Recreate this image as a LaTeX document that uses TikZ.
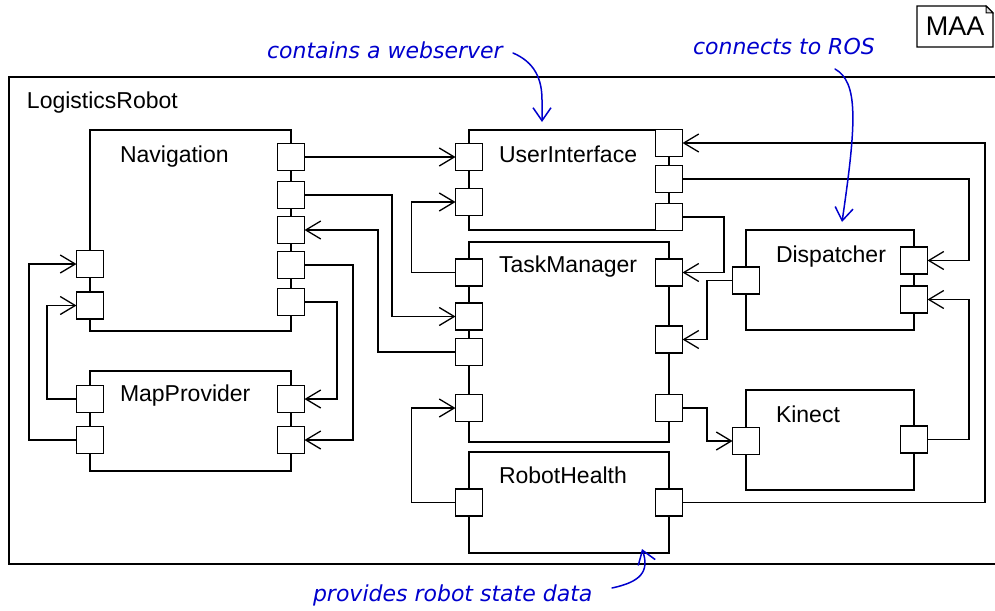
\documentclass[tikz,border=0pt]{standalone}
\usepackage{fontspec}
\setmainfont{Liberation Sans}
\newfontfamily\notefont{DejaVu Sans}
\usetikzlibrary{arrows.meta}

\begin{document}
\begin{tikzpicture}[x=1pt,y=-1pt,line cap=rect,
  comp/.style={draw, line width=1.4pt, inner sep=0, outer sep=0, anchor=north west},
  cname/.style={inner sep=0, outer sep=0, anchor=base west, font=\fontsize{23pt}{23pt}\selectfont},
  port/.style={draw, fill=white, line width=1.8pt, inner sep=0, outer sep=0, minimum size=27pt},
  conn/.style={line width=1.3pt, -{Straight Barb[length=15pt,width=18pt]}},
  note/.style={inner sep=0, outer sep=0, anchor=base west, custcol_0_0_cd, font=\notefont\itshape\fontsize{22pt}{22pt}\selectfont},
  notearrow/.style={custcol_0_0_cd, line width=1.5pt, line cap=round, -{Straight Barb[length=13pt,width=18pt]}}]
\useasboundingbox (0,0) rectangle (995,610);
\definecolor{custcol_0_0_0}{RGB}{0, 0, 0}
\definecolor{custcol_0_0_cd}{RGB}{0, 0, 205}
\definecolor{custcol_dd_dd_dd}{RGB}{221, 221, 221}
% outer frame
\draw [line width=1.4pt, custcol_0_0_0] (994,77) -- (9,77) -- (9,564) -- (994,564);
\node[cname] (robotName) at (27,108) {LogisticsRobot};
% MAA tag
\node[inner sep=0, outer sep=0, minimum width=76pt, minimum height=41pt, font=\fontsize{27pt}{27pt}\selectfont] (maa) at (955,26.5) {MAA};
\draw [line width=1.4pt] (maa.north west) -- ([xshift=-7pt]maa.north east) -- ([yshift=-7pt]maa.north east) -- (maa.south east) -- (maa.south west) -- cycle;
\filldraw [line width=1pt, fill=custcol_dd_dd_dd] ([xshift=-7pt]maa.north east) -- ([xshift=-7pt,yshift=-7pt]maa.north east) -- ([yshift=-7pt]maa.north east) -- cycle;
% components
\node[comp, minimum width=201pt, minimum height=201pt] (nav) at (90,130) {};
\node[comp, minimum width=201pt, minimum height=100pt] (mp) at (90,371) {};
\node[comp, minimum width=200pt, minimum height=100pt] (ui) at (469,130) {};
\node[comp, minimum width=200pt, minimum height=200pt] (tm) at (469,242) {};
\node[comp, minimum width=200pt, minimum height=101pt] (rh) at (469,452) {};
\node[comp, minimum width=168pt, minimum height=100pt] (dsp) at (746,230) {};
\node[comp, minimum width=168pt, minimum height=100pt] (kin) at (746,390) {};
\node[cname] (navName) at (120,162) {Navigation};
\node[cname] (mpName) at (120,401) {MapProvider};
\node[cname] (uiName) at (499,162) {UserInterface};
\node[cname] (tmName) at (499,272) {TaskManager};
\node[cname] (rhName) at (499,483) {RobotHealth};
\node[cname] (dspName) at (776,262) {Dispatcher};
\node[cname] (kinName) at (776,422) {Kinect};
% ports
\node[port] (navR1) at (291,157) {};
\node[port] (navR2) at (291,195) {};
\node[port] (navR3) at (291,230) {};
\node[port] (navR4) at (291,265) {};
\node[port] (navR5) at (291,302) {};
\node[port] (navL1) at (90,264) {};
\node[port] (navL2) at (90,305.5) {};
\node[port] (mpL1) at (90,399) {};
\node[port] (mpL2) at (90,440) {};
\node[port] (mpR1) at (291,399) {};
\node[port] (mpR2) at (291,440) {};
\node[port] (uiL1) at (469,157) {};
\node[port] (uiL2) at (469,202) {};
\node[port] (uiR1) at (669,143) {};
\node[port] (uiR2) at (669,179) {};
\node[port] (uiR3) at (669,217) {};
\node[port] (tmL1) at (469,272.5) {};
\node[port] (tmL2) at (469,316.5) {};
\node[port] (tmL3) at (469,352) {};
\node[port] (tmL4) at (469,408) {};
\node[port] (tmR1) at (669,272.5) {};
\node[port] (tmR2) at (669,339.5) {};
\node[port] (tmR3) at (669,408) {};
\node[port] (rhL) at (469,502.5) {};
\node[port] (rhR) at (669,502.5) {};
\node[port] (dspL) at (746,280.5) {};
\node[port] (dspR1) at (914,260.5) {};
\node[port] (dspR2) at (914,299.5) {};
\node[port] (kinL) at (746,441) {};
\node[port] (kinR) at (914,439.5) {};
% lanes
\coordinate (xOut2) at (29,0);
\coordinate (xOut1) at (47,0);
\coordinate (xMp1) at (337,0);
\coordinate (xMp2) at (353,0);
\coordinate (xTmNav) at (378,0);
\coordinate (xNavTm) at (392,0);
\coordinate (xTmUi) at (411.5,0);
\coordinate (xDsp) at (707,0);
\coordinate (xUiTm) at (724,0);
\coordinate (xUiDsp) at (969,0);
\coordinate (xRh) at (985,0);
% connectors
\draw[conn] (navR1) -- (uiL1);
\draw[conn] (navR2) -- (navR2 -| xNavTm) |- (tmL2);
\draw[conn] (tmL3) -- (tmL3 -| xTmNav) |- (navR3);
\draw[conn] (navR4) -- (navR4 -| xMp2) |- (mpR2);
\draw[conn] (navR5) -- (navR5 -| xMp1) |- (mpR1);
\draw[conn] (mpL1) -- (mpL1 -| xOut1) |- (navL2);
\draw[conn] (mpL2) -- (mpL2 -| xOut2) |- (navL1);
\draw[conn] (tmL1) -- (tmL1 -| xTmUi) |- (uiL2);
\draw[conn] (uiR3) -- (uiR3 -| xUiTm) |- (tmR1);
\draw[conn] (dspL) -- (dspL -| xDsp) |- (tmR2);
\draw[conn] (uiR2) -- (uiR2 -| xUiDsp) |- (dspR1);
\draw[conn] (rhR) -- (rhR -| xRh) |- (uiR1);
\draw[conn] (kinR) -- (kinR -| xUiDsp) |- (dspR2);
\draw[conn] (tmR3) -- (tmR3 -| xDsp) |- (kinL);
\draw[conn] (rhL) -- (rhL -| xTmUi) |- (tmL4);
% notes
\node[note] (noteWeb) at (267,59) {contains a webserver};
\node[note] (noteRos) at (693,55) {connects to ROS};
\node[note] (noteState) at (313,601) {provides robot state data};
\coordinate (webFrom) at (513,53);
\coordinate (webTo) at (542,122);
\coordinate (rosFrom) at (835,69);
\coordinate (rosTo) at (842,222);
\coordinate (stateFrom) at (612,588);
\coordinate (stateTo) at (642,549);
\draw[notearrow] (webFrom) .. controls (534,62) and (542,78) .. (542,100) -- (webTo);
\draw[notearrow] (rosFrom) .. controls (858,82) and (857,120) .. (rosTo);
\draw[notearrow] (stateFrom) .. controls (640,582) and (650,572) .. (stateTo);
\end{tikzpicture}
\end{document}
